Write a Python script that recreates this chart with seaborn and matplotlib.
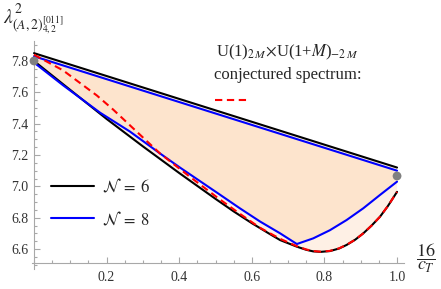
import numpy as np
import pandas as pd
import seaborn as sns
import matplotlib.pyplot as plt
from matplotlib.lines import Line2D
from matplotlib.ticker import FixedLocator, MultipleLocator

# ---------------------
# data
# ---------------------
n6_upper_x = [0.0, 1.0]
n6_upper_y = [7.85, 7.12]
n8_upper_x = [0.0, 1.0]
n8_upper_y = [7.83, 7.10]

n6_lower_x = [0.0, 0.1, 0.2, 0.3, 0.4, 0.5, 0.55, 0.6, 0.65, 0.678, 0.724, 0.75,
              0.769, 0.79, 0.815, 0.84, 0.861, 0.885, 0.907, 0.93, 0.953, 0.975, 1.0]
n6_lower_y = [7.80, 7.615, 7.43, 7.255, 7.085, 6.92, 6.84, 6.765, 6.695, 6.657, 6.615, 6.595,
              6.585, 6.582, 6.587, 6.603, 6.626, 6.66, 6.70, 6.75, 6.806, 6.875, 6.965]

n8_lower_x = [0.0, 0.08, 0.182, 0.264, 0.347, 0.402, 0.507, 0.567, 0.623, 0.678, 0.724,
              0.769, 0.815, 0.861, 0.907, 0.953, 1.0]
n8_lower_y = [7.79, 7.645, 7.47, 7.35, 7.21, 7.12, 6.955, 6.86, 6.775, 6.70, 6.632,
              6.668, 6.72, 6.785, 6.86, 6.945, 7.03]

conj_x = [0.0, 0.08, 0.173, 0.218, 0.264, 0.347, 0.43, 0.507, 0.567, 0.623, 0.678,
          0.724, 0.75, 0.769, 0.79, 0.815, 0.84, 0.861, 0.885, 0.907, 0.93, 0.953,
          0.975, 1.0]
conj_y = [7.84, 7.74, 7.58, 7.49, 7.39, 7.21, 7.06, 6.925, 6.825, 6.735, 6.665,
          6.618, 6.597, 6.587, 6.583, 6.588, 6.604, 6.627, 6.66, 6.70, 6.75, 6.806,
          6.875, 6.965]

dot_x = [0.0, 1.0]
dot_y = [7.80, 7.066]

x_ticks = [0.2, 0.4, 0.6, 0.8, 1.0]
y_ticks = [6.6, 6.8, 7.0, 7.2, 7.4, 7.6, 7.8]

# ---------------------
# style
# ---------------------
sns.set_style("ticks")
plt.rcParams['font.family'] = ['Liberation Serif', 'DejaVu Serif']
plt.rcParams['mathtext.fontset'] = 'stix'

axis_grey = '#a8a8a8'

fig = plt.figure(figsize=(4.41, 2.89), dpi=100)
ax = fig.add_axes([0.0730, 0.0678, 0.8438, 0.7917])

# shaded regions (N=6 light, N=8 darker)
ax.fill(n6_upper_x + n6_lower_x[::-1], n6_upper_y + n6_lower_y[::-1],
        color='#fef0e5', lw=0, zorder=1)
ax.fill(n8_upper_x + n8_lower_x[::-1], n8_upper_y + n8_lower_y[::-1],
        color='#fde4cd', lw=0, zorder=2)

lw = 1.5
for xs, ys in [(n6_upper_x, n6_upper_y), (n6_lower_x, n6_lower_y)]:
    sns.lineplot(x=xs, y=ys, sort=False, color='black', lw=lw, ax=ax, zorder=3)
for xs, ys in [(n8_upper_x, n8_upper_y), (n8_lower_x, n8_lower_y)]:
    sns.lineplot(x=xs, y=ys, sort=False, color='#0000ff', lw=lw, ax=ax, zorder=4)
sns.lineplot(x=conj_x, y=conj_y, sort=False, color='#ff0000', lw=lw, ax=ax,
             zorder=5, dashes=False, linestyle=(0, (3.5, 2.2)))
sns.scatterplot(x=dot_x, y=dot_y, color='#808080', s=40, edgecolor='none',
                ax=ax, zorder=6, clip_on=False)

# axes in Mathematica style
ax.set_xlim(-0.005, 1.02)
ax.set_ylim(6.47, 7.93)
ax.spines['top'].set_visible(False)
ax.spines['right'].set_visible(False)
ax.spines['left'].set_position(('data', 0.0))
ax.spines['bottom'].set_position(('data', 6.51))
for s in ['left', 'bottom']:
    ax.spines[s].set_color(axis_grey)
    ax.spines[s].set_linewidth(0.8)

ax.xaxis.set_major_locator(FixedLocator(x_ticks))
ax.yaxis.set_major_locator(FixedLocator(y_ticks))
ax.xaxis.set_minor_locator(MultipleLocator(0.05))
ax.yaxis.set_minor_locator(MultipleLocator(0.05))
ax.set_xticklabels([f"{v:.1f}" for v in x_ticks])
ax.set_yticklabels([f"{v:.1f}" for v in y_ticks])
ax.tick_params(which='both', direction='in', color=axis_grey, width=0.8,
               labelsize=10, labelcolor='#333333')
ax.tick_params(which='major', length=4)
ax.tick_params(which='minor', length=2)
ax.tick_params(axis='x', pad=6)
ax.tick_params(axis='y', pad=4)
ax.set_xlabel('')
ax.set_ylabel('')

# axis labels
fig.text(3 / 441, 1 - 3 / 289, r'$\lambda^2_{(A,2)^{[011]}_{4,2}}$',
         fontsize=14, ha='left', va='top')
fig.text(426 / 441, 1 - 258 / 289, r'$\dfrac{16}{c_T}$',
         fontsize=13, ha='center', va='center')

# legend for N = 6, 8
handles = [Line2D([], [], color='black', lw=lw), Line2D([], [], color='#0000ff', lw=lw)]
ax.legend(handles, [r'$\mathcal{N}\;=\;6$', r'$\mathcal{N}\;=\;8$'], frameon=False,
          loc='center left', bbox_to_anchor=(0.032, 0.29), borderaxespad=0.0,
          fontsize=12, handlelength=2.6, handletextpad=0.45, labelspacing=0.85)

# conjectured spectrum annotation
fig.text(287 / 441, 1 - 52 / 289, r'U(1)$_{2\,M}$$\times$U(1+$M$)$_{-2\,M}$',
         fontsize=12, ha='center', va='center')
fig.text(288 / 441, 1 - 75 / 289, 'conjectured spectrum:',
         fontsize=12, ha='center', va='center')
fig.add_artist(Line2D([215 / 441, 250 / 441], [1 - 100 / 289, 1 - 100 / 289],
                      color='#ff0000', lw=lw, linestyle=(0, (3.5, 2.2)),
                      transform=fig.transFigure))

fig.savefig('out.png', dpi=100)
